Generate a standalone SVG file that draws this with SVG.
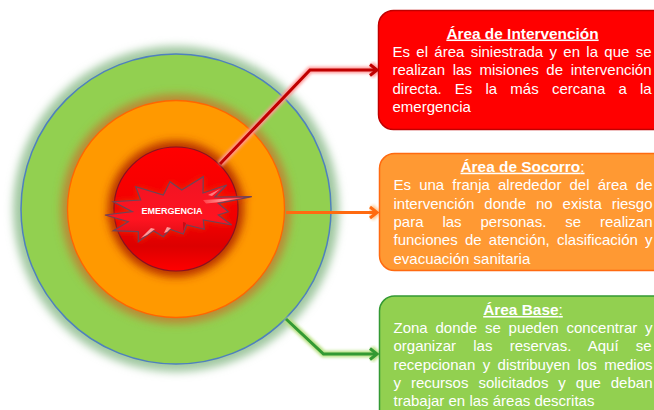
<svg xmlns="http://www.w3.org/2000/svg" width="654" height="410" viewBox="0 0 654 410">
<style>
text{font-family:"Liberation Sans",Arial,sans-serif;fill:#fff}
.t{font-size:15px}
.h{font-size:15.400px;font-weight:700;text-anchor:middle;text-decoration:underline}
.n{font-weight:400}
.box{stroke-width:1.500}
.halo{fill:none;stroke-width:6.500;filter:url(#b2);stroke-linejoin:miter}
.ln{fill:none;stroke-width:3;stroke-linejoin:miter}
</style>
<defs>
<filter id="b2" x="-30%" y="-30%" width="160%" height="160%"><feGaussianBlur stdDeviation="1.400"/></filter>
<filter id="b5" x="-20%" y="-20%" width="140%" height="140%"><feGaussianBlur stdDeviation="4.500"/></filter>
<filter id="b3" x="-30%" y="-30%" width="160%" height="160%"><feGaussianBlur stdDeviation="3"/></filter>
<filter id="b1" x="-30%" y="-30%" width="160%" height="160%"><feGaussianBlur stdDeviation=".7"/></filter>
<linearGradient id="star" x1="0" y1="0" x2="0" y2="1"><stop offset="0" stop-color="#f01424"/><stop offset=".65" stop-color="#ff1420"/><stop offset="1" stop-color="#d80c14"/></linearGradient>
<linearGradient id="tip" x1="0" y1="0" x2="1" y2="0"><stop offset="0" stop-color="#ff4048"/><stop offset=".5" stop-color="#ff9a9a"/><stop offset="1" stop-color="#ff4048"/></linearGradient>
<linearGradient id="ring" x1="0" y1="0" x2="0" y2="1"><stop offset="0" stop-color="#ff0000"/><stop offset=".62" stop-color="#f00000"/><stop offset=".8" stop-color="#dc0000"/><stop offset="1" stop-color="#ff0000"/></linearGradient>
</defs>

<g id="area-base-circle">
<circle cx="176" cy="209" r="163" fill="#a0c8a0" filter="url(#b5)"/>
<circle cx="176" cy="209" r="155" fill="#92d050" stroke="#4f81bd" stroke-width="1.500"/>
</g>
<g id="area-socorro-circle">
<circle cx="176" cy="209" r="115" fill="#bc8a34" filter="url(#b5)"/>
<circle cx="176" cy="209" r="108.500" fill="#ff9900" stroke="#ff6600" stroke-width="1.300"/>
</g>
<g id="area-intervencion-circle">
<circle cx="176" cy="209" r="68" fill="#b83000" filter="url(#b5)"/>
<circle cx="176" cy="209" r="62" fill="url(#ring)" stroke="#8a1020" stroke-width="1.200"/>
</g>

<g id="connectors">
<path class="halo" stroke="#ff9a9a" d="M220 164L310 70H372"/>
<path class="halo" stroke="#ff9a9a" d="M371 64.500L377 70L371 75.500"/>
<path class="ln" stroke="#c00000" d="M220 164L310 70H376"/>
<path class="ln" stroke="#c00000" d="M370 64.500L377 70L370 75.500"/>
<path class="halo" stroke="#ffc890" d="M286 212.500H372"/>
<path class="halo" stroke="#ffc890" d="M371 207L377 212.500L371 218"/>
<path class="ln" stroke="#ff6a10" d="M286 212.500H376"/>
<path class="ln" stroke="#ff6a10" d="M370 207L377 212.500L370 218"/>
<path class="halo" stroke="#b6e07e" d="M286 319L323.500 354H372"/>
<path class="halo" stroke="#b6e07e" d="M371 348.500L377 354L371 359.500"/>
<path class="ln" stroke="#339933" d="M286 319L323.500 354H376"/>
<path class="ln" stroke="#339933" d="M370 348.500L377 354L370 359.500"/>
</g>

<g id="emergencia">
<polygon points="105,215 132.300,211.700 113.300,201.700 140.700,200 135.700,186.700 163.300,195 170,181.700 181.700,190 203.300,176.700 203,193 226.700,185 215,197 251.700,196.700 218.300,203.300 228.300,211.700 218.300,215 231.700,225 203.300,220 204.300,229.300 186.700,225 183.300,234 170,229.300 163.300,236.700 153.300,230.700 138.300,241.700 138.300,231.700 113.300,230.700 128.300,221.700" fill="#e83000" filter="url(#b3)"/>
<polygon points="105,215 132.300,211.700 113.300,201.700 140.700,200 135.700,186.700 163.300,195 170,181.700 181.700,190 203.300,176.700 203,193 226.700,185 215,197 251.700,196.700 218.300,203.300 228.300,211.700 218.300,215 231.700,225 203.300,220 204.300,229.300 186.700,225 183.300,234 170,229.300 163.300,236.700 153.300,230.700 138.300,241.700 138.300,231.700 113.300,230.700 128.300,221.700" fill="url(#star)" stroke="#6e4458" stroke-width="1.200" stroke-linejoin="miter"/>
<polygon points="203,200 244,197.800 216,202.500 206,203.500" fill="url(#tip)" filter="url(#b1)"/>
<polygon points="208,195 220,189 212,196" fill="#ff7a80" filter="url(#b1)"/>
<polygon points="141,238 151,228 155,229 147,235" fill="#ff9a9a" filter="url(#b1)"/>
<polygon points="164,233 167,227 171,228 167,232" fill="#ff9a9a" filter="url(#b1)"/>
<polygon points="183,231 183,222 186,223" fill="#c40c14" filter="url(#b1)"/>
<text x="172" y="214" font-size="9" font-weight="700" text-anchor="middle">EMERGENCIA</text>
</g>

<g id="area-intervencion">
<rect class="box" x="378.500" y="10.500" width="300" height="119" rx="15" fill="#ff0000" stroke="#c00000"/>
<text class="h" x="522.500" y="38.500">Área de Intervención</text>
<text class="t" x="392.500" y="57" word-spacing="2.150">Es el área siniestrada y en la que se</text>
<text class="t" x="392.500" y="75" word-spacing="3.480">realizan las misiones de intervención</text>
<text class="t" x="392.500" y="93.500" word-spacing="9">directa. Es la más cercana a la</text>
<text class="t" x="392.500" y="112">emergencia</text>
</g>

<g id="area-socorro">
<rect class="box" x="379.500" y="153.500" width="300" height="117" rx="15" fill="#ff9933" stroke="#ff6a10"/>
<text class="h" x="522.500" y="171.700">Área de Socorro<tspan class="n">:</tspan></text>
<text class="t" x="393.500" y="190" word-spacing="3.980">Es una franja alrededor del área de</text>
<text class="t" x="393.500" y="208.500" word-spacing="5.760">intervención donde no exista riesgo</text>
<text class="t" x="393.500" y="227" word-spacing="14.730">para las personas. se realizan</text>
<text class="t" x="393.500" y="245" word-spacing="3.060">funciones de atención, clasificación y</text>
<text class="t" x="393.500" y="263.500">evacuación sanitaria</text>
</g>

<g id="area-base">
<rect class="box" x="379.500" y="296" width="300" height="130" rx="15" fill="#92d050" stroke="#339933"/>
<text class="h" x="523" y="315">Área Base<tspan class="n">:</tspan></text>
<text class="t" x="393.500" y="333" word-spacing="3.610">Zona donde se pueden concentrar y</text>
<text class="t" x="393.500" y="351" word-spacing="13.050">organizar las reservas. Aquí se</text>
<text class="t" x="393.500" y="369.500" word-spacing="3.270">recepcionan y distribuyen los medios</text>
<text class="t" x="393.500" y="388" word-spacing="5.770">y recursos solicitados y que deban</text>
<text class="t" x="393.500" y="406">trabajar en las áreas descritas</text>
</g>
</svg>
